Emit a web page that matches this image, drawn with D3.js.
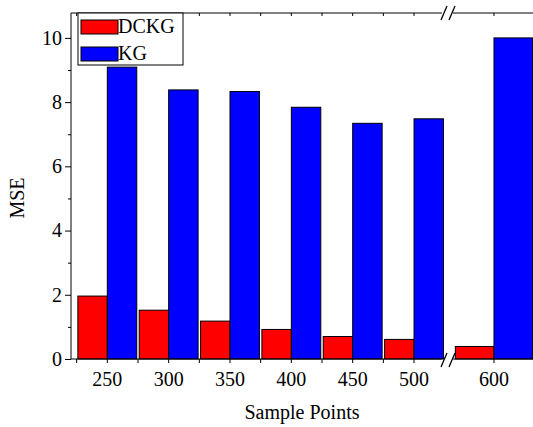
<!DOCTYPE html>
<html>
<head>
<meta charset="utf-8">
<script src="https://cdn.jsdelivr.net/npm/d3@7"></script>
<style>
  body { margin: 0; background: #fff; }
  svg { display: block; }
  svg text { font-family: "Liberation Serif", "Times New Roman", serif; fill: #000; }
</style>
</head>
<body>
<svg id="chart" width="533" height="427"></svg>
<script>
// data
var samplePoints = [250, 300, 350, 400, 450, 500, 600]
var dckg = [1.96, 1.52, 1.18, 0.92, 0.70, 0.61, 0.39]
var kg = [9.09, 8.38, 8.33, 7.84, 7.34, 7.48, 10.0]
var yTicks = [0, 2, 4, 6, 8, 10]
var yMinor = [1, 3, 5, 7, 9]
var xMinor = [225, 275, 325, 375, 425, 475]
var seriesNames = ["DCKG", "KG"]
var seriesColors = ["#ff0000", "#0000ff"]

const width = 533
const height = 427
var svg = d3.select("#chart")

var plotLeft = 71, plotTop = 13, plotBottom = 359
var half = 24  // bar width in x units

// broken x axis: two linear pieces
var x1 = d3.scaleLinear().domain([220.4, 525]).range([plotLeft, 444.7])
var x2 = d3.scaleLinear().domain([571, 624]).range([447.3, 532.6])
function x(v) { return v > 550 ? x2(v) : x1(v) }

var y = d3.scaleLinear().domain([0, 10]).range([plotBottom, 37.9])

// bars
var rows = samplePoints.map(function(p, i) { return {p: p, a: dckg[i], b: kg[i]} })

svg.append("g").selectAll("rect")
    .data(rows)
    .enter()
    .append("rect")
    .attr("x", function(d) { return x(d.p - half) })
    .attr("y", function(d) { return y(d.a) })
    .attr("width", function(d) { return x(d.p) - x(d.p - half) })
    .attr("height", function(d) { return y(0) - y(d.a) })
    .attr("fill", seriesColors[0])
    .attr("stroke", "#000")
    .attr("stroke-width", 1)

svg.append("g").selectAll("rect")
    .data(rows)
    .enter()
    .append("rect")
    .attr("x", function(d) { return x(d.p) })
    .attr("y", function(d) { return y(d.b) })
    .attr("width", function(d) { return x(d.p + half) - x(d.p) })
    .attr("height", function(d) { return y(0) - y(d.b) })
    .attr("fill", seriesColors[1])
    .attr("stroke", "#000")
    .attr("stroke-width", 1)

// y axis
var gy = svg.append("g")
    .attr("transform", "translate(" + plotLeft + ",0)")
    .call(d3.axisLeft(y).tickValues(yTicks).tickSize(6).tickPadding(3))
gy.attr("font-family", null).attr("font-size", null)
gy.select(".domain").remove()
gy.selectAll("text").style("font-size", "20px")
svg.append("g")
    .attr("transform", "translate(" + plotLeft + ",0)")
    .call(d3.axisLeft(y).tickValues(yMinor).tickSize(3).tickFormat(""))
    .select(".domain").remove()
svg.append("line")
    .attr("x1", plotLeft).attr("x2", plotLeft).attr("y1", plotTop).attr("y2", plotBottom)
    .attr("stroke", "#000")

// x axis
var gx = svg.append("g")
    .attr("transform", "translate(0," + plotBottom + ")")
gx.selectAll("g.tick")
    .data(samplePoints)
    .enter()
    .append("g")
    .attr("class", "tick")
    .attr("transform", function(d) { return "translate(" + x(d) + ",0)" })
    .each(function(d) {
        var g = d3.select(this)
        g.append("line").attr("y2", 4).attr("stroke", "#000")
        g.append("text")
            .attr("y", 27)
            .attr("text-anchor", "middle")
            .style("font-size", "20px")
            .text(d)
    })
gx.selectAll("line.minor")
    .data(xMinor)
    .enter()
    .append("line")
    .attr("class", "minor")
    .attr("x1", function(d) { return x(d) })
    .attr("x2", function(d) { return x(d) })
    .attr("y2", 4)
    .attr("stroke", "#000")

// axis lines with breaks
var frame = svg.append("g").attr("stroke", "#000").attr("fill", "none")
frame.append("line").attr("x1", plotLeft).attr("x2", 442).attr("y1", plotBottom).attr("y2", plotBottom)
frame.append("line").attr("x1", 453).attr("x2", width).attr("y1", plotBottom).attr("y2", plotBottom)
frame.append("line").attr("x1", plotLeft).attr("x2", 442).attr("y1", plotTop).attr("y2", plotTop)
frame.append("line").attr("x1", 453).attr("x2", width).attr("y1", plotTop).attr("y2", plotTop)
// top mirrored ticks
svg.append("g").selectAll("line")
    .data(samplePoints.concat(xMinor))
    .enter()
    .append("line")
    .attr("x1", function(d) { return x(d) })
    .attr("x2", function(d) { return x(d) })
    .attr("y1", plotTop).attr("y2", plotTop + 3)
    .attr("stroke", "#000")

function breakMark(cx, cy) {
    var b = svg.append("g").attr("stroke", "#000").attr("stroke-width", 1.3)
    b.append("line").attr("x1", cx - 7).attr("y1", cy + 7).attr("x2", cx - 1).attr("y2", cy - 7)
    b.append("line").attr("x1", cx + 1).attr("y1", cy + 7).attr("x2", cx + 7).attr("y2", cy - 7)
}
breakMark(448, plotTop)
breakMark(448, plotBottom + 1)

// axis titles
svg.append("text")
    .attr("x", 302)
    .attr("y", 419)
    .attr("text-anchor", "middle")
    .style("font-size", "20px")
    .text("Sample Points")
svg.append("text")
    .attr("transform", "translate(24,198) rotate(-90)")
    .attr("text-anchor", "middle")
    .style("font-size", "20px")
    .text("MSE")

// legend
var legend = svg.append("g")
legend.append("rect")
    .attr("x", 78).attr("y", plotTop).attr("width", 105).attr("height", 52)
    .attr("fill", "#fff").attr("stroke", "#000")
seriesNames.forEach(function(name, i) {
    legend.append("rect")
        .attr("x", 81).attr("y", 20 + i * 27).attr("width", 37).attr("height", 14)
        .attr("fill", seriesColors[i]).attr("stroke", "#000")
    legend.append("text")
        .attr("x", 118).attr("y", 33 + i * 27)
        .style("font-size", "20px")
        .text(name)
})
</script>
</body>
</html>
